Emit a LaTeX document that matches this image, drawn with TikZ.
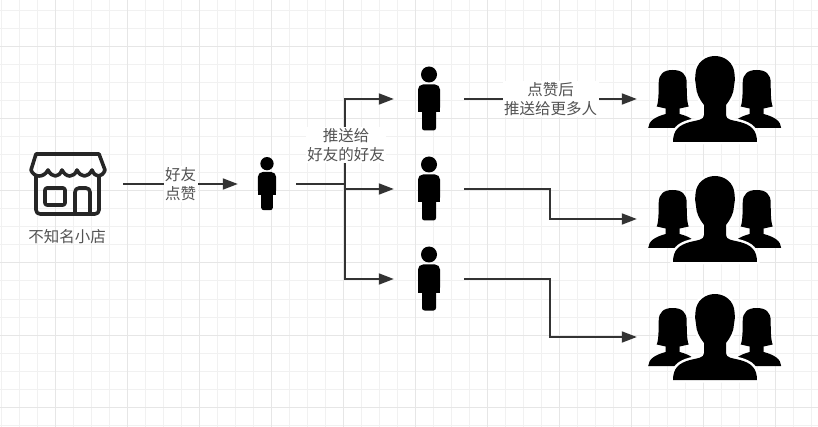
\documentclass[tikz,border=0pt]{standalone}
\usepackage{fontspec}
\newfontfamily\cjk{Noto Sans CJK SC}
\usetikzlibrary{arrows.meta}

\definecolor{inkline}{HTML}{333333}
\definecolor{gridminor}{HTML}{F1F1F1}
\definecolor{gridmajor}{HTML}{E6E6E6}

\tikzset{
  holder/.style={inner sep=0pt, minimum height=20pt},
  link/.style={draw=inkline, line width=1.8pt, -{Triangle[length=15pt,width=11pt]}},
  tag/.style={fill=white, inner sep=1.5pt, text=inkline!85, align=center, font=\cjk\fontsize{15.5}{19}\selectfont},
  person/.pic={
    \fill (0,-24.5) circle (8);
    \fill[rounded corners=5pt] (-11,-14.5) -- (11,-14.5) -- (11,13.5) -- (-11,13.5) -- cycle;
    \fill (-11,5) rectangle (11,13.5);
    \fill[rounded corners=2.5pt] (-7,8) rectangle (7,31.5);
  },
  member/.pic={
    \fill (-24.5,29) .. controls (-24,22) and (-18,18) .. (-7,15) -- (-7,9.5) -- (-16,7.5)
      .. controls (-15,5) and (-14,2) .. (-14,-16) .. controls (-14,-25) and (-9,-29) .. (0,-29)
      .. controls (9,-29) and (14,-25) .. (14,-16) .. controls (14,2) and (15,5) .. (16,7.5)
      -- (7,9.5) -- (7,15) .. controls (18,18) and (24,22) .. (24.5,29) -- cycle;
  },
  crowd/.pic={
    \pic at (-42.3,0) {member};
    \pic at (41.7,0) {member};
    \fill[preaction={draw=white, line width=5pt}] (-42,43) .. controls (-42,31) and (-36,26) .. (-25,23)
      .. controls (-17,21) and (-11,21) .. (-11,16) -- (-11,6)
      .. controls (-15,1) and (-19,-6) .. (-19,-13) .. controls (-20,-17) and (-20,-20) .. (-19.5,-25)
      .. controls (-19,-36) and (-10,-43) .. (0,-43) .. controls (10,-43) and (19,-36) .. (19.5,-25)
      .. controls (20,-20) and (20,-17) .. (19,-13) .. controls (19,-6) and (15,1) .. (11,6)
      -- (11,16) .. controls (11,21) and (17,21) .. (25,23) .. controls (36,26) and (42,31) .. (42,43) -- cycle;
  },
  shop/.pic={
    \begin{scope}[draw=black!85, line width=3.6pt, line join=round, line cap=round]
      % Roof with its scalloped edge
      \draw (-31,-30) -- (32,-30) -- (38,-14)
        .. controls (35,-6) and (28,-6) .. (25,-14)
        .. controls (21,-6) and (14,-6) .. (10,-14)
        .. controls (7,-6) and (-1,-6) .. (-5,-14)
        .. controls (-8,-6) and (-15,-6) .. (-19,-14)
        .. controls (-23,-6) and (-33,-6) .. (-36,-14) -- cycle;
      % Walls
      \draw[rounded corners=4pt] (-31,-8) -- (-31,30) -- (32,30) -- (32,-8);
      % Window and door
      \draw[rounded corners=2pt] (-22,4) rectangle (-2,21);
      \draw[rounded corners=4pt] (8,30) -- (8,4) -- (23,4) -- (23,30);
    \end{scope}
  }
}

\begin{document}
\begin{tikzpicture}[x=1pt,y=-1pt]
  \useasboundingbox (0,0) rectangle (818,427);

  % Grid
  \foreach \gx in {1,19,...,817} {\draw[gridminor, line width=1pt] (\gx,0) -- (\gx,427);}
  \foreach \gy in {11,29,...,425} {\draw[gridminor, line width=1pt] (0,\gy) -- (818,\gy);}
  \foreach \gx in {55,127,...,811} {\draw[gridmajor, line width=1pt] (\gx,0) -- (\gx,427);}
  \foreach \gy in {47,119,...,407} {\draw[gridmajor, line width=1pt] (0,\gy) -- (818,\gy);}

  % Holders the connectors start and stop at
  \node[holder, minimum width=112pt] (store) at (67,184) {};
  \node[holder, minimum width=58pt] (buyer) at (267,184) {};
  \node[holder, minimum width=70pt] (friendA) at (429,99) {};
  \node[holder, minimum width=70pt] (friendB) at (429,189) {};
  \node[holder, minimum width=70pt] (friendC) at (429,279) {};
  \node[holder, minimum width=156pt] (crowdA) at (715,99) {};
  \node[holder, minimum width=156pt] (crowdB) at (715,219) {};
  \node[holder, minimum width=156pt] (crowdC) at (715,337) {};
  \coordinate (fork) at (345,184);
  \coordinate (bendB) at (550,189);
  \coordinate (bendC) at (550,279);

  % Icons
  \pic at (store) {shop};
  \pic[scale=.83] at (buyer) {person};
  \pic at (friendA) {person};
  \pic at (friendB) {person};
  \pic at (friendC) {person};
  \pic at (crowdA) {crowd};
  \pic at (crowdB) {crowd};
  \pic at (crowdC) {crowd};

  % Connectors
  \draw[link] (store.east) -- node[tag] (liked) {好友\\点赞} (buyer.west);
  \draw[link] (buyer.east) -- (fork) |- (friendA.west);
  \draw[link] (buyer.east) -- (fork) |- (friendB.west);
  \draw[link] (buyer.east) -- (fork) |- (friendC.west);
  \draw[link] (friendA.east) -- node[tag] (spread) {点赞后\\推送给更多人} (crowdA.west);
  \draw[link] (friendB.east) -- (bendB) |- (crowdB.west);
  \draw[link] (friendC.east) -- (bendC) |- (crowdC.west);

  \node[tag] (pushed) at (346,145) {推送给\\好友的好友};
  \node[tag, fill=none] (storename) at (67,237) {不知名小店};
\end{tikzpicture}
\end{document}
